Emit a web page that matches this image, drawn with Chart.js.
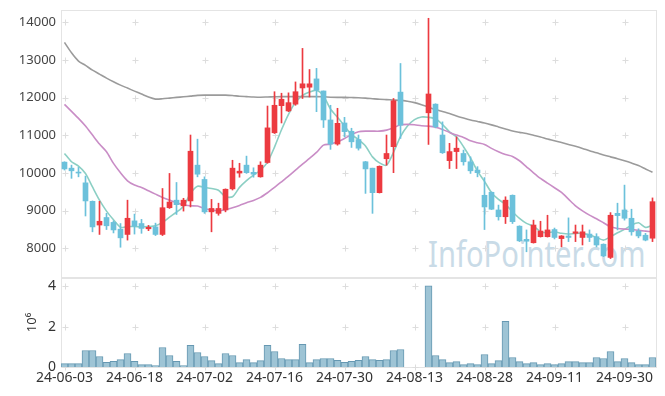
<!DOCTYPE html>
<html>
<head>
<meta charset="utf-8">
<script src="https://cdn.jsdelivr.net/npm/chart.js@4.4.1/dist/chart.umd.min.js"></script>
<style>
  html, body { margin: 0; padding: 0; background: #fff; }
  #wrap { position: relative; width: 665px; height: 396px; overflow: hidden; }
  #mark { position: absolute; left: 428px; top: 236px; font-family: 'Noto Sans'; font-size: 36px; line-height: 1;
          color: #c9dbe7; white-space: nowrap; transform: scaleX(0.81); transform-origin: left top; }
  #price { position: absolute; left: 0; top: 0; }
  #vol { position: absolute; left: 0; top: 270px; }
</style>
</head>
<body>
<div id="wrap">
  <div id="mark">InfoPointer.com</div>
  <canvas id="price" width="665" height="278"></canvas>
  <canvas id="vol" width="665" height="126"></canvas>
</div>
<script>
// trading days (08-12 .. 08-14 no trades)
const dates = [
  '24-06-03','24-06-04','24-06-05','24-06-07','24-06-10','24-06-11','24-06-12','24-06-13','24-06-14','24-06-17',
  '24-06-18','24-06-19','24-06-20','24-06-21','24-06-24','24-06-25','24-06-26','24-06-27','24-06-28','24-07-01',
  '24-07-02','24-07-03','24-07-04','24-07-05','24-07-08','24-07-09','24-07-10','24-07-11','24-07-12','24-07-15',
  '24-07-16','24-07-17','24-07-18','24-07-19','24-07-22','24-07-23','24-07-24','24-07-25','24-07-26','24-07-29',
  '24-07-30','24-07-31','24-08-01','24-08-02','24-08-05','24-08-06','24-08-07','24-08-08','24-08-09','24-08-12',
  '24-08-13','24-08-14','24-08-16','24-08-19','24-08-20','24-08-21','24-08-22','24-08-23','24-08-26','24-08-27',
  '24-08-28','24-08-29','24-08-30','24-09-02','24-09-03','24-09-04','24-09-05','24-09-06','24-09-09','24-09-10',
  '24-09-11','24-09-12','24-09-13','24-09-19','24-09-20','24-09-23','24-09-24','24-09-25','24-09-26','24-09-27',
  '24-09-30','24-10-02','24-10-04','24-10-07','24-10-08'
];
const opens = [
  10290,10130,10020,9740,9250,8620,8820,8690,8510,8370,
  8730,8660,8520,8570,8370,9080,9280,9130,9260,10210,
  9830,8970,8930,9020,9580,10000,10210,10020,9900,10280,
  11070,11790,11650,11830,12260,12280,12500,12180,11410,10770,
  11330,11110,10890,10300,10130,9480,10380,10700,12150,null,
  null,null,11600,11830,11010,10330,10570,10520,10300,10080,
  9410,9490,9020,8840,9410,8590,8240,8150,8310,8310,
  8500,8260,8330,8400,8290,8380,8310,8110,7760,8930,
  9020,8800,8460,8350,8270
];
const highs = [
  10300,10210,10150,9920,9260,9250,8930,8730,8660,9280,
  8910,8770,8610,8670,9590,9990,9750,9330,11010,10900,
  9900,9300,9200,9580,10340,10260,10450,10140,10300,11780,
  12160,12120,12130,12420,13310,12750,12780,12180,11800,11720,
  11480,11190,11010,10310,10130,10190,11010,11980,12910,null,
  null,null,14110,11840,11360,10790,10960,10610,10430,10170,
  9880,9500,9150,9370,9420,8600,8490,8750,8720,8880,
  8540,8340,8810,8620,8620,8490,8390,8120,8950,9200,
  9680,9040,8520,8400,9340
];
const lows = [
  10080,9860,9900,8860,8440,8370,8500,8410,8030,8220,
  8380,8400,8470,8340,8340,9060,8900,8990,9100,9900,
  8930,8440,8880,8970,9550,9890,9990,9890,9890,10260,
  11050,11330,11630,11800,11980,12020,11630,11210,10630,10740,
  10960,10680,10610,9460,8930,9470,10210,10010,10920,null,
  null,null,10760,11200,10520,10120,10120,10210,9990,9900,
  8500,9030,8750,8660,8660,8180,7910,8140,8300,8300,
  8250,8040,8180,8180,8090,8180,8040,7780,7730,8490,
  8750,8350,8280,8200,8180
];
const closes = [
  10110,10060,10000,9260,8570,8720,8600,8490,8280,8800,
  8590,8530,8560,8370,9080,9230,9160,9280,10580,9970,
  8970,9060,9060,9570,10130,10050,10010,9970,10210,11200,
  11800,11960,11870,12160,12370,12370,12200,11410,10770,11320,
  11100,10830,10660,10110,9480,10180,10520,11920,11270,null,
  null,null,12100,11230,10540,10570,10660,10300,10060,10010,
  9100,9040,8840,9280,8710,8200,8190,8620,8460,8490,
  8290,8330,8290,8440,8440,8290,8090,7800,8880,8870,
  8800,8440,8330,8220,9240
];
const volumes = [
  170000,170000,170000,820000,820000,520000,230000,280000,370000,670000,
  280000,120000,120000,70000,970000,570000,280000,70000,1070000,720000,
  520000,320000,170000,670000,570000,220000,370000,220000,320000,1070000,
  770000,420000,370000,370000,1120000,220000,370000,420000,420000,330000,
  230000,280000,330000,520000,370000,330000,370000,820000,870000,null,
  null,null,4030000,570000,370000,220000,270000,120000,170000,120000,
  620000,170000,320000,2270000,470000,270000,170000,220000,120000,170000,
  120000,170000,270000,270000,220000,220000,470000,420000,770000,270000,
  420000,220000,120000,120000,470000
];
const ma5 = [
  10520,10300,10185,9990,9630,9280,8990,8760,8560,8580,
  8580,8570,8580,8600,8690,8830,8960,9120,9460,9650,
  9620,9590,9545,9370,9370,9620,9800,9946,10075,10290,
  10690,11150,11560,11880,12060,12150,12200,12050,11700,11480,
  11250,11020,10890,10720,10430,10270,10210,10550,10970,11250,
  11420,11490,11480,11440,11290,11095,10963,10700,10400,10050,
  9780,9480,9300,9170,8972,8796,8663,8592,8441,8414,
  8440,8400,8380,8398,8398,8353,8292,8220,8308,8414,
  8504,8618,8680,8557,8618
];
const ma20 = [
  11823,11637,11451,11247,11008,10769,10565,10256,10007,9795,
  9681,9619,9529,9441,9354,9282,9211,9150,9131,9123,
  9060,9017,8998,9026,9079,9141,9211,9274,9354,9477,
  9619,9768,9919,10079,10238,10389,10548,10742,10769,10830,
  10920,11020,11095,11113,11113,11113,11140,11202,11281,11292,
  11281,11255,11247,11220,11159,11079,11008,10947,10857,10804,
  10761,10655,10565,10490,10442,10327,10167,10007,9858,9733,
  9610,9486,9308,9131,8998,8884,8786,8680,8573,8530,
  8512,8504,8478,8459,8441
];
const ma60 = [
  13469,13193,12973,12858,12733,12627,12521,12423,12335,12256,
  12176,12097,12017,11964,11972,11990,12009,12025,12043,12062,
  12070,12070,12070,12070,12060,12040,12030,12020,12015,12020,
  12025,12030,12030,12030,12030,12030,12030,12025,12015,12010,
  12010,12005,12000,11990,11975,11960,11950,11940,11930,11905,
  11870,11815,11750,11690,11635,11580,11515,11460,11410,11370,
  11330,11280,11225,11170,11115,11080,11050,11005,10960,10905,
  10860,10810,10760,10710,10655,10595,10540,10480,10430,10380,
  10325,10265,10200,10110,10020
];
const priceTicks = [8000, 9000, 10000, 11000, 12000, 13000, 14000];
const volTicks = [0, 2000000, 4000000];
const labelEvery = 10;

const upColor = '#ec3a40';
const downColor = '#6cc1db';
const candleColors = opens.map((o, i) => (o != null && closes[i] >= o) ? upColor : downColor);

// light frame + small crosses where grid lines would meet
const crossPlugin = {
  id: 'crosses',
  beforeDatasetsDraw(chart) {
    const {ctx, chartArea: a, scales} = chart;
    ctx.save();
    ctx.strokeStyle = '#e4e4e4';
    ctx.lineWidth = 1;
    ctx.strokeRect(a.left + 0.5, a.top + 0.5, a.right - a.left, a.bottom - a.top);
    ctx.strokeStyle = '#dddddd';
    const ys = scales.y.ticks.map(t => scales.y.getPixelForValue(t.value));
    for (let i = 0; i < dates.length; i += labelEvery) {
      const x = Math.round(scales.x.getPixelForValue(i)) + 0.5;
      ys.forEach(yy => {
        const y = Math.round(yy) + 0.5;
        ctx.beginPath();
        ctx.moveTo(x - 3, y); ctx.lineTo(x + 3, y);
        ctx.moveTo(x, y - 3); ctx.lineTo(x, y + 3);
        ctx.stroke();
      });
    }
    ctx.restore();
  }
};

// keep chart.js from growing the plot margins for tick labels
function fixY(s) {
  s.width = 61;
  s.paddingTop = 0; s.paddingBottom = 0;
}
function fixX(s, h) {
  s.height = h;
  s.paddingLeft = 0; s.paddingRight = 0;
}

function maLine(data, color) {
  return { type: 'line', data: data, borderColor: color, borderWidth: 1.6, pointRadius: 0, tension: 0.25, order: 2 };
}

new Chart(document.getElementById('price'), {
  data: {
    labels: dates,
    datasets: [
      maLine(ma60, '#9b9b9b'),
      maLine(ma20, '#c98dc6'),
      maLine(ma5, '#8ccfc4'),
      { type: 'bar', data: lows.map((l, i) => l == null ? null : [l, highs[i]]),
        backgroundColor: candleColors, barThickness: 1, grouped: false, order: 1 },
      { type: 'bar', data: opens.map((o, i) => o == null ? null : [o, closes[i]]),
        backgroundColor: candleColors, barThickness: 5, minBarLength: 1, grouped: false, order: 0 }
    ]
  },
  options: {
    responsive: false,
    animation: false,
    layout: { padding: { left: 0, right: 9, top: 10, bottom: 1 } },
    plugins: { legend: { display: false }, tooltip: { enabled: false } },
    scales: {
      x: { display: false, offset: true },
      y: {
        min: 7240, max: 14330,
        afterBuildTicks: s => { s.ticks = priceTicks.map(v => ({ value: v })); },
        afterFit: fixY,
        grid: { display: false, drawTicks: false },
        border: { display: false },
        ticks: { padding: 5, color: '#444', font: { family: 'Noto Sans', size: 13 },
                 callback: v => String(v) }
      }
    }
  },
  plugins: [crossPlugin]
});

new Chart(document.getElementById('vol'), {
  type: 'bar',
  data: {
    labels: dates,
    datasets: [{
      data: volumes,
      backgroundColor: '#9ec4d5',
      borderColor: '#6698b2',
      borderWidth: 1,
      barPercentage: 1,
      categoryPercentage: 1
    }]
  },
  options: {
    responsive: false,
    animation: false,
    layout: { padding: { left: 0, right: 9, top: 8, bottom: 0 } },
    plugins: { legend: { display: false }, tooltip: { enabled: false } },
    scales: {
      x: {
        offset: true,
        afterFit: s => fixX(s, 29),
        grid: { display: false, drawTicks: false },
        border: { display: false },
        ticks: {
          autoSkip: false, maxRotation: 0, padding: 3, color: '#333',
          font: { family: 'Noto Sans', size: 14 },
          callback: (v, i) => i % labelEvery === 0 ? dates[i] : null
        }
      },
      y: {
        min: 0, max: 4420000,
        afterBuildTicks: s => { s.ticks = volTicks.map(v => ({ value: v })); },
        afterFit: fixY,
        grid: { display: false, drawTicks: false },
        border: { display: false },
        title: { display: true, text: '10⁶', color: '#333', padding: { top: 24, bottom: 0 },
                 font: { family: 'Noto Sans', size: 13 } },
        ticks: { padding: 5, color: '#333', font: { family: 'Noto Sans', size: 14 },
                 callback: v => v / 1000000 }
      }
    }
  },
  plugins: [crossPlugin]
});
</script>
</body>
</html>
